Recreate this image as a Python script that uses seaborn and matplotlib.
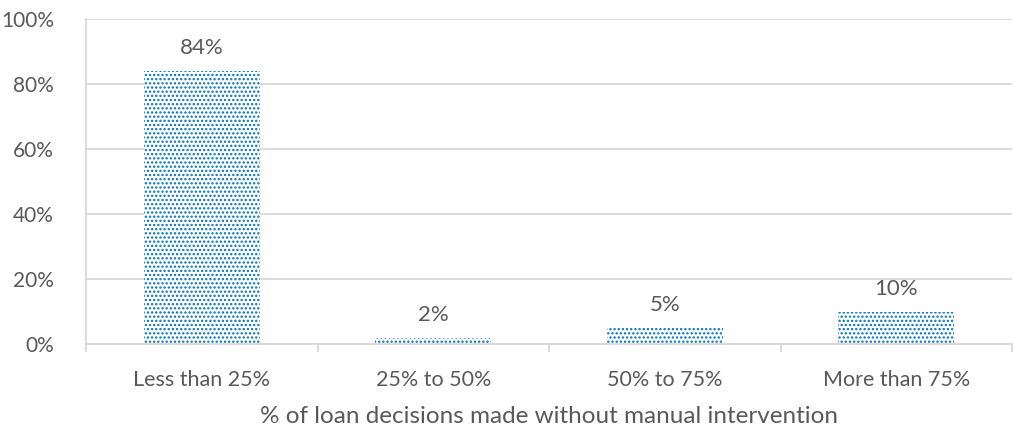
import matplotlib
matplotlib.use("Agg")
import matplotlib.pyplot as plt
import seaborn as sns
import pandas as pd
from matplotlib.ticker import FuncFormatter, FixedLocator

categories = ["Less than 25%", "25% to 50%", "50% to 75%", "More than 75%"]
shares = [84, 2, 5, 10]
x_title = "% of loan decisions made without manual intervention"

df = pd.DataFrame({"bucket": categories, "share": shares})

sns.set_theme(style="white")
plt.rcParams["font.family"] = ["Lato", "DejaVu Sans"]
plt.rcParams["hatch.linewidth"] = 1.1
plt.rcParams["hatch.color"] = "#0070C0"

text_color = "#595959"
grid_color = "#D9D9D9"

fig = plt.figure(figsize=(10.13, 4.30), dpi=100)
ax = fig.add_axes([86 / 1013, 1 - 344 / 430, 926 / 1013, 325 / 430])

sns.barplot(data=df, x="bucket", y="share", ax=ax, width=0.5,
            color="white", edgecolor="#0070C0", linewidth=0, saturation=1)
for patch in ax.patches:
    patch.set_hatch("....")
    patch.set_linewidth(0)

ax.set_ylim(0, 100)
ax.set_xlim(-0.5, len(categories) - 0.5)
ax.yaxis.set_major_locator(FixedLocator([0, 20, 40, 60, 80, 100]))
ax.yaxis.set_major_formatter(FuncFormatter(lambda v, _: f"{v:.0f}%"))
ax.grid(axis="y", color=grid_color, linewidth=1.3, zorder=0)
ax.set_axisbelow(True)

for side in ["top", "right"]:
    ax.spines[side].set_visible(False)
ax.spines["left"].set_color(grid_color)
ax.spines["left"].set_linewidth(1.3)
ax.spines["bottom"].set_color(grid_color)
ax.spines["bottom"].set_linewidth(1.3)

# value labels above bars
for i, v in enumerate(shares):
    ax.annotate(f"{v}%", (i, v), xytext=(0, 9), textcoords="offset points",
                ha="center", va="bottom", fontsize=16, color=text_color)

# category ticks: labels at centers, tick marks at boundaries
ax.set_xticks(range(len(categories)))
ax.set_xticklabels(categories)
ax.tick_params(axis="x", length=0, pad=19, labelsize=15.5, labelcolor=text_color)
ax.set_xticks([i + 0.5 for i in range(-1, len(categories))], minor=True)
ax.tick_params(axis="x", which="minor", length=6, width=1.3, color=grid_color,
               bottom=True)
ax.tick_params(axis="y", length=0, pad=23, labelsize=15, labelcolor=text_color)

ax.set_xlabel(x_title, fontsize=17.5, color=text_color, labelpad=11)
ax.set_ylabel("")

fig.savefig("out.png", dpi=100)
